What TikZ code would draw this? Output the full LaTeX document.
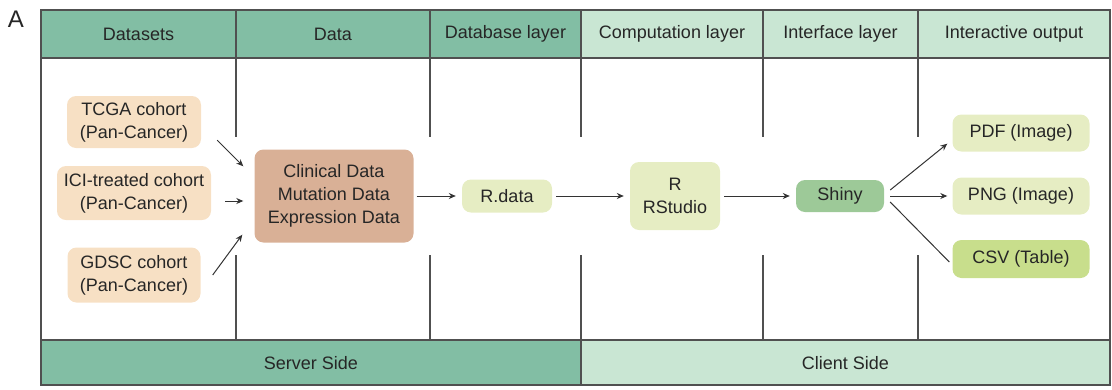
\documentclass[tikz,border=0pt]{standalone}
\usepackage{fontspec}
\setmainfont{Liberation Sans}
\usetikzlibrary{arrows.meta}
\definecolor{hdark}{HTML}{82BEA4}
\definecolor{hlight}{HTML}{C9E6D3}
\definecolor{peach}{HTML}{F7E0C4}
\definecolor{tan}{HTML}{D9B096}
\definecolor{lyg}{HTML}{E6EDC3}
\definecolor{shiny}{HTML}{9DC998}
\definecolor{csvc}{HTML}{C8DE8C}
\definecolor{frame}{HTML}{505050}
\tikzset{
  txt/.style={font=\fontsize{18}{23}\selectfont, text=black!85},
  box/.style={txt, rounded corners=9pt, align=center, inner sep=0pt},
  hdr/.style={txt, anchor=center},
  conn/.style={draw=black!80, line width=1pt, -{Stealth[length=7pt,width=6pt]}},
  plain/.style={draw=black!80, line width=1pt},
  grid/.style={draw=frame, line width=1.2pt},
}
\begin{document}
\begin{tikzpicture}[x=1pt,y=-1pt]
\useasboundingbox (0,0) rectangle (1112,389);
% header and footer bands
\fill[hdark] (41,10) rectangle (581,58);
\fill[hlight] (581,10) rectangle (1110,58);
\fill[hdark] (41,340) rectangle (581,385);
\fill[hlight] (581,340) rectangle (1110,385);
% frame
\draw[grid] (41,10) rectangle (1110,385);
\draw[grid] (41,58) -- (1110,58);
\draw[grid] (41,340) -- (1110,340);
\draw[grid] (236,10) -- (236,58);
\draw[grid] (430,10) -- (430,58);
\draw[grid] (581,10) -- (581,58);
\draw[grid] (763,10) -- (763,58);
\draw[grid] (918,10) -- (918,58);
\draw[grid] (581,340) -- (581,385);
% partial dividers
\foreach \x in {236,430,581,763,918}{
  \draw[grid] (\x,58) -- (\x,137);
  \draw[grid] (\x,255) -- (\x,340);
}
% label A
\node[txt, font=\fontsize{24}{28}\selectfont] (lblA) at (16,19) {A};
% header texts
\node[hdr] (h1) at (138.5,34) {Datasets};
\node[hdr] (h2) at (333,34) {Data};
\node[hdr] (h3) at (505.5,34) {Database layer};
\node[hdr] (h4) at (672,34) {Computation layer};
\node[hdr] (h5) at (840.5,34) {Interface layer};
\node[hdr] (h6) at (1014,34) {Interactive output};
\node[hdr] (f1) at (311,363) {Server Side};
\node[hdr] (f2) at (845.5,363) {Client Side};
% nodes
\node[box, fill=peach, minimum width=134pt, minimum height=52pt] (tcga) at (134,122) {TCGA cohort\\(Pan-Cancer)};
\node[box, fill=peach, minimum width=154pt, minimum height=54pt] (ici) at (134,193) {ICI-treated cohort\\(Pan-Cancer)};
\node[box, fill=peach, minimum width=133pt, minimum height=55pt] (gdsc) at (134,275) {GDSC cohort\\(Pan-Cancer)};
\node[box, fill=tan, minimum width=159pt, minimum height=93pt] (clin) at (334,196) {Clinical Data\\Mutation Data\\Expression Data};
\node[box, fill=lyg, minimum width=90pt, minimum height=33pt] (rdata) at (507,196) {R.data};
\node[box, fill=lyg, minimum width=90pt, minimum height=68pt] (r) at (675,196) {R\\RStudio};
\node[box, fill=shiny, minimum width=88pt, minimum height=32pt] (shiny) at (840,196) {Shiny};
\node[box, fill=lyg, minimum width=137pt, minimum height=37pt] (pdf) at (1021,133) {PDF (Image)};
\node[box, fill=lyg, minimum width=137pt, minimum height=37pt] (png) at (1021,196) {PNG (Image)};
\node[box, fill=csvc, minimum width=137pt, minimum height=38pt] (csv) at (1021,259) {CSV (Table)};
% connectors (yshift is upward on the page)
\draw[conn] ([xshift=16pt,yshift=8pt]tcga.south east) -- ([xshift=-11pt,yshift=-17pt]clin.north west);
\draw[conn] ([xshift=14pt,yshift=-8pt]ici.east) -- ([xshift=-11pt,yshift=-5pt]clin.west);
\draw[conn] ([xshift=12pt]gdsc.east) -- ([xshift=-12pt,yshift=8pt]clin.south west);
\draw[conn] ([xshift=3pt]clin.east) -- ([xshift=-6pt]rdata.west);
\draw[conn] ([xshift=4pt]rdata.east) -- ([xshift=-6pt]r.west);
\draw[conn] ([xshift=4pt]r.east) -- ([xshift=-6pt]shiny.west);
\draw[conn] ([xshift=6pt,yshift=6pt]shiny.east) -- ([xshift=-5pt,yshift=8pt]pdf.south west);
\draw[conn] ([xshift=6pt]shiny.east) -- ([xshift=-5pt]png.west);
\draw[plain] ([xshift=6pt,yshift=-6pt]shiny.east) -- ([xshift=-3pt,yshift=-3pt]csv.west);
\end{tikzpicture}
\end{document}
